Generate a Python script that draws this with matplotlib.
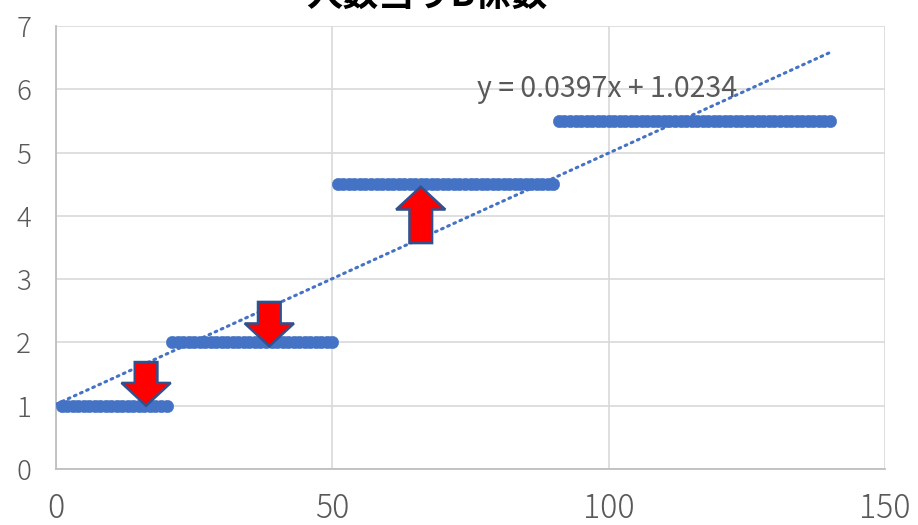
import numpy as np
import matplotlib
matplotlib.use("Agg")
import matplotlib.pyplot as plt
from matplotlib.patches import Polygon

plt.rcParams['font.family'] = ['Noto Sans CJK JP', 'DejaVu Sans']

# step data: headcount vs. coefficient
x_step1 = list(range(1, 21));   y_step1 = 1.0
x_step2 = list(range(21, 51));  y_step2 = 2.0
x_step3 = list(range(51, 91));  y_step3 = 4.5
x_step4 = list(range(91, 141)); y_step4 = 5.5

title = "人数当りB係数"
x_ticks = [0, 50, 100, 150]
y_ticks = [0, 1, 2, 3, 4, 5, 6, 7]

# block arrows: (x centre, tail y, tip y)
arrows = [(16.3, 1.69, 1.0), (38.6, 2.64, 1.94), (66.0, 3.57, 4.46)]
shaft_w, head_w, head_len = 4.1, 8.9, 0.36

xs = np.array(x_step1 + x_step2 + x_step3 + x_step4, dtype=float)
ys = np.concatenate([np.full(len(x_step1), y_step1), np.full(len(x_step2), y_step2),
                     np.full(len(x_step3), y_step3), np.full(len(x_step4), y_step4)])

fig = plt.figure(figsize=(9.18, 5.25), dpi=100)
ax = fig.add_axes([56/918, 1-469/525, (885-56)/918, (469-26)/525])

blue = '#4472C4'
gray_txt = '#595959'

ax.plot(xs, ys, 'o', ms=9, color=blue, mec=blue, mew=0.3, zorder=3)

# linear trendline
slope, icept = np.polyfit(xs, ys, 1)
tx = np.array([0.0, xs.max()])
ax.plot(tx, slope*tx + icept, color=blue, lw=2.2, ls=(0, (0.6, 1.6)),
        dash_capstyle='round', zorder=4)
ax.text(76.2, 6.0, f"y = {slope:.4f}x + {icept:.4f}", color=gray_txt,
        fontsize=20.5, ha='left', va='center', zorder=5)

for cx, y0, y1 in arrows:
    d = 1 if y1 > y0 else -1
    yb = y1 - d*head_len
    verts = [(cx - shaft_w/2, y0), (cx - shaft_w/2, yb), (cx - head_w/2, yb),
             (cx, y1), (cx + head_w/2, yb), (cx + shaft_w/2, yb), (cx + shaft_w/2, y0)]
    ax.add_patch(Polygon(verts, closed=True, fc='#FF0000', ec='#2F528F', lw=1.8,
                         joinstyle='miter', zorder=6))

ax.set_xlim(0, 150)
ax.set_ylim(0, 7)
ax.set_xticks(x_ticks)
ax.set_yticks(y_ticks)
ax.grid(True, color='#D9D9D9', lw=1.2, zorder=0)
ax.set_axisbelow(True)
for s in ['top', 'right']:
    ax.spines[s].set_visible(False)
for s in ['left', 'bottom']:
    ax.spines[s].set_color('#BFBFBF')
    ax.spines[s].set_linewidth(1.3)
ax.tick_params(axis='both', length=0, colors=gray_txt)
ax.tick_params(axis='x', labelsize=23, pad=16)
ax.tick_params(axis='y', labelsize=20, pad=18)
for lab in ax.get_xticklabels() + ax.get_yticklabels():
    lab.set_fontweight('light')

fig.text(427/918, 1 - 6/525, title, fontsize=26, fontweight='bold', color='black',
         ha='center', va='baseline')

fig.savefig('out.png', dpi=100)
